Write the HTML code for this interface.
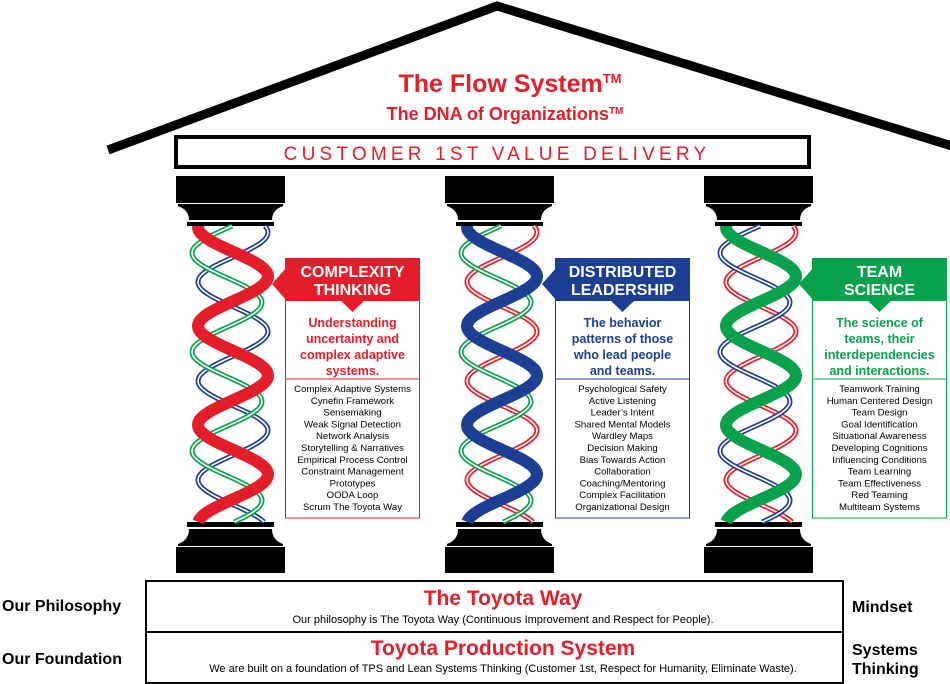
<!DOCTYPE html>
<html><head><meta charset="utf-8"><style>
html,body{margin:0;padding:0;background:#fff;width:950px;height:684px;overflow:hidden}
svg{display:block;font-family:"Liberation Sans",Arial,sans-serif}
</style></head><body>
<svg id="s" width="950" height="684" viewBox="0 0 950 684" xmlns="http://www.w3.org/2000/svg">
<polyline points="108,150 497,6 952,146" fill="none" stroke="#000" stroke-width="9"/>
<text x="510" y="92" text-anchor="middle" font-size="25" font-weight="bold" fill="#e31e2a">The Flow System<tspan font-size="13" dy="-9">TM</tspan></text>
<text x="505" y="120" text-anchor="middle" font-size="18" font-weight="bold" fill="#e31e2a">The DNA of Organizations<tspan font-size="10" dy="-6">TM</tspan></text>
<rect x="176" y="137" width="633" height="30" fill="#fff" stroke="#000" stroke-width="4"/>
<text x="497" y="160" text-anchor="middle" font-size="19" letter-spacing="4.2" fill="#e31e2a">CUSTOMER 1ST VALUE DELIVERY</text>
<g id="cols"></g>
<g id="calls"></g>
<rect x="146" y="581" width="697" height="51" fill="#fff" stroke="#000" stroke-width="2"/>
<rect x="146" y="632" width="697" height="51" fill="#fff" stroke="#000" stroke-width="2"/>
<text x="503" y="605" text-anchor="middle" font-size="21" font-weight="bold" fill="#e31e2a">The Toyota Way</text>
<text x="503" y="623" text-anchor="middle" font-size="11" fill="#000">Our philosophy is The Toyota Way (Continuous Improvement and Respect for People).</text>
<text x="503" y="655" text-anchor="middle" font-size="21" font-weight="bold" fill="#e31e2a">Toyota Production System</text>
<text x="503" y="672" text-anchor="middle" font-size="11" fill="#000">We are built on a foundation of TPS and Lean Systems Thinking (Customer 1st, Respect for Humanity, Eliminate Waste).</text>
<text x="2" y="611" font-size="16" font-weight="bold">Our Philosophy</text>
<text x="2" y="664" font-size="16" font-weight="bold">Our Foundation</text>
<text x="852" y="612" font-size="16" font-weight="bold">Mindset</text>
<text x="852" y="655" font-size="16" font-weight="bold">Systems</text>
<text x="852" y="674" font-size="16" font-weight="bold">Thinking</text>
</svg>
<script>
var NS="http://www.w3.org/2000/svg";
function el(p,t,a,txt){var e=document.createElementNS(NS,t);for(var k in a)e.setAttribute(k,a[k]);if(txt!=null)e.textContent=txt;p.appendChild(e);return e;}
var R="#e31e2a",B="#1c3f94",G="#0aa14c";
var cols=document.getElementById("cols"),calls=document.getElementById("calls");
function helix(cx,off){var d="";for(var y=226;y<=522;y+=2){var x=cx-35*Math.cos(2*Math.PI*(y-227-off)/99);d+=(d?"L":"M")+x.toFixed(1)+","+y;}return d;}
var P=[{x:176,c:233,main:R,o:[B,G]},{x:445,c:502,main:B,o:[R,G]},{x:704,c:761,main:G,o:[R,B]}];
P.forEach(function(p){
 var g=el(cols,"g",{});
 var x=p.x;
 el(g,"rect",{x:x,y:176,width:109,height:27,fill:"#000"});
 el(g,"path",{d:"M"+(x+2)+",204 L"+(x+107)+",204 L"+(x+107)+",206 Q"+(x+96)+",210 "+(x+96)+",220 L"+(x+13)+",220 Q"+(x+13)+",210 "+(x+2)+",206Z",fill:"#000"});
 el(g,"rect",{x:x+11,y:222,width:87,height:4,fill:"#000"});
 el(g,"rect",{x:x+11,y:522,width:87,height:5,fill:"#000"});
 el(g,"path",{d:"M"+(x+13)+",529 L"+(x+96)+",529 Q"+(x+96)+",540 "+(x+107)+",544 L"+(x+107)+",546 L"+(x+2)+",546 L"+(x+2)+",544 Q"+(x+13)+",540 "+(x+13)+",529Z",fill:"#000"});
 el(g,"rect",{x:x,y:547,width:109,height:26,fill:"#000"});
 var offs=[55,26],dx=[0,-6];
 for(var i=0;i<2;i++){var d=helix(p.c+dx[i],offs[i]);el(g,"path",{d:d,fill:"none",stroke:p.o[i],"stroke-width":5});el(g,"path",{d:d,fill:"none",stroke:"#fff","stroke-width":1.6});}
 el(g,"path",{d:helix(p.c,0),fill:"none",stroke:p.main,"stroke-width":12});
});
var C=[{x:285,col:R,h:["COMPLEXITY","THINKING"],d:["Understanding","uncertainty and","complex adaptive","systems."],l:["Complex Adaptive Systems","Cynefin Framework","Sensemaking","Weak Signal Detection","Network Analysis","Storytelling & Narratives","Empirical Process Control","Constraint Management","Prototypes","OODA Loop","Scrum The Toyota Way"]},
{x:555,col:B,h:["DISTRIBUTED","LEADERSHIP"],d:["The behavior","patterns of those","who lead people","and teams."],l:["Psychological Safety","Active Listening","Leader\u2019s Intent","Shared Mental Models","Wardley Maps","Decision Making","Bias Towards Action","Collaboration","Coaching/Mentoring","Complex Facilitation","Organizational Design"]},
{x:812,col:G,h:["TEAM","SCIENCE"],d:["The science of","teams, their","interdependencies","and interactions."],l:["Teamwork Training","Human Centered Design","Team Design","Goal Identification","Situational Awareness","Developing Cognitions","Influencing Conditions","Team Learning","Team Effectiveness","Red Teaming","Multiteam Systems"]}];
C.forEach(function(c){
 var x=c.x,w=135,cx=x+w/2;
 el(calls,"rect",{x:x+0.5,y:300,width:w-1,height:218,fill:"#fff",stroke:c.col,"stroke-width":1});
 el(calls,"rect",{x:x,y:258,width:w,height:43,fill:c.col});
 el(calls,"path",{d:"M"+(x-13)+",284 L"+(x+1)+",268 L"+(x+1)+",300Z",fill:c.col});
 el(calls,"path",{d:"M"+(x+55)+",300 L"+(x+80)+",300 L"+(x+67.5)+",312Z",fill:c.col});
 el(calls,"line",{x1:x,x2:x+w,y1:379,y2:379,stroke:c.col,"stroke-width":1});
 c.h.forEach(function(t,i){el(calls,"text",{x:cx,y:277+i*18,"text-anchor":"middle","font-size":16,"font-weight":"bold",fill:"#fff"},t);});
 c.d.forEach(function(t,i){el(calls,"text",{x:cx,y:327+i*16,"text-anchor":"middle","font-size":12.5,"font-weight":"bold",fill:c.col},t);});
 c.l.forEach(function(t,i){el(calls,"text",{x:cx,y:392+i*11.8,"text-anchor":"middle","font-size":9.6,fill:"#000"},t);});
});
</script>
</body></html>
